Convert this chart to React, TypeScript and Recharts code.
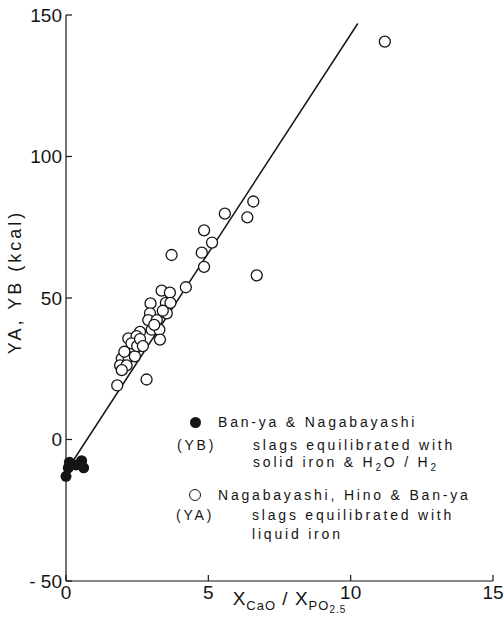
import React from "react";
import { ScatterChart, Scatter, XAxis, YAxis, Label } from "recharts";

// YA: Nagabayashi, Hino & Ban-ya (open circles) [XCaO/XPO2.5, kcal]
const yaPoints: [number, number][] = [
  [11.2, 140.6], [6.58, 84.1], [6.37, 78.5], [6.7, 58], [5.58, 79.8],
  [4.85, 73.9], [5.13, 69.6], [4.77, 66], [4.85, 61], [4.21, 53.8],
  [3.71, 65.2], [3.36, 52.6], [3.65, 51.9], [3.51, 48.3], [3.67, 48.3],
  [2.97, 48.1], [3.54, 44.6], [2.95, 44.6], [2.89, 42.2], [3.19, 42.2],
  [3.01, 38.8], [3.28, 38.8], [3.3, 35.3], [2.6, 38], [2.19, 35.7],
  [2.48, 36.5], [2.42, 32.2], [2.25, 31.6], [1.96, 28.6], [2.19, 29.2],
  [2.42, 29.4], [1.9, 26.2], [2.13, 26.2], [1.96, 24.5], [1.8, 19.1],
  [2.83, 21.2], [2.3, 34], [2.5, 33], [2.05, 31], [2.6, 35.5],
  [3.1, 40.5], [3.4, 45.5], [2.7, 33],
];

// YB: Ban-ya & Nagabayashi (filled circles)
const ybPoints: [number, number][] = [
  [0.0, -13], [0.08, -10], [0.12, -8], [0.35, -9], [0.55, -7.5], [0.62, -10],
];

// regression line end points
const fitLine: [number, number][] = [
  [0.25, -7.5], [10.25, 147],
];

const xTicks = [0, 5, 10, 15];
const yTicks = [-50, 0, 50, 100, 150];

const toXY = (arr: [number, number][]) => arr.map(([x, y]) => ({ x, y }));

const FONT = "'Liberation Sans', Arial, sans-serif";
const INK = "#151515";

const OpenDot = (p: any) => (
  <circle cx={p.cx} cy={p.cy} r={5.5} fill="#fff" stroke={INK} strokeWidth={1.3} />
);
const FilledDot = (p: any) => <circle cx={p.cx} cy={p.cy} r={5.5} fill={INK} />;
const NoDot = () => <g />;

const XTitle = (props: any) => {
  const vb = props.viewBox || { x: 66, width: 427 };
  const cx = vb.x + vb.width / 2 + 10;
  return (
    <text x={cx} y={605} textAnchor="middle" fontFamily={FONT} fontSize={19} fill={INK} letterSpacing={1}>
      X<tspan fontSize={13} dy={5}>CaO</tspan>
      <tspan fontSize={19} dy={-5}> / X</tspan>
      <tspan fontSize={13} dy={5}>PO</tspan>
      <tspan fontSize={10} dy={3}>2.5</tspan>
    </text>
  );
};

const YTitle = () => (
  <text
    x={15}
    y={282}
    transform="rotate(-90, 15, 282)"
    textAnchor="middle"
    dominantBaseline="central"
    fontFamily={FONT}
    fontSize={18}
    letterSpacing={3}
    fill={INK}
  >
    YA, YB (kcal)
  </text>
);

const legendText: React.CSSProperties = {
  position: "absolute",
  fontFamily: FONT,
  fontSize: 14,
  letterSpacing: 2.8,
  color: INK,
  lineHeight: "16px",
  whiteSpace: "nowrap",
  transform: "translateY(-50%)",
};

export default function App() {
  const tickStyle = { fontFamily: FONT, fontSize: 19, fill: INK };
  return (
    <div style={{ position: "absolute", left: 0, top: 0, width: 504, height: 635, background: "#fff" }}>
      <ScatterChart width={504} height={635} margin={{ top: 15, right: 11, left: 0, bottom: 14 }}>
        <XAxis
          type="number"
          dataKey="x"
          domain={[0, 15]}
          ticks={xTicks}
          height={40}
          tickSize={-6}
          tickMargin={11}
          tick={tickStyle}
          stroke={INK}
          axisLine={{ stroke: INK, strokeWidth: 1.2 }}
          tickLine={{ stroke: INK, strokeWidth: 1.2 }}
        >
          <Label content={XTitle} />
        </XAxis>
        <XAxis
          xAxisId="top"
          orientation="top"
          type="number"
          dataKey="x"
          domain={[0, 15]}
          ticks={xTicks}
          height={0}
          tickSize={-6}
          tick={false}
          axisLine={{ stroke: INK, strokeWidth: 1.2 }}
          tickLine={{ stroke: INK, strokeWidth: 1.2 }}
        />
        <YAxis
          type="number"
          dataKey="y"
          domain={[-50, 150]}
          ticks={yTicks}
          width={66}
          tickSize={-6}
          tickMargin={10}
          tick={tickStyle}
          tickFormatter={(v: number) => (v < 0 ? `- ${-v}` : `${v}`)}
          axisLine={{ stroke: INK, strokeWidth: 1.2 }}
          tickLine={{ stroke: INK, strokeWidth: 1.2 }}
        >
          <Label content={YTitle} />
        </YAxis>
        <YAxis
          yAxisId="right"
          orientation="right"
          type="number"
          dataKey="y"
          domain={[-50, 150]}
          ticks={yTicks}
          width={0}
          tickSize={-6}
          tick={false}
          axisLine={{ stroke: INK, strokeWidth: 1.2 }}
          tickLine={{ stroke: INK, strokeWidth: 1.2 }}
        />
        <Scatter
          data={toXY(fitLine)}
          line={{ stroke: INK, strokeWidth: 1.5 }}
          shape={NoDot}
          isAnimationActive={false}
        />
        <Scatter data={toXY(yaPoints)} shape={OpenDot} isAnimationActive={false} />
        <Scatter data={toXY(ybPoints)} shape={FilledDot} isAnimationActive={false} />
      </ScatterChart>

      {/* legend block inside the plot */}
      <div style={{ position: "absolute", left: 0, top: 0, width: 504, height: 635, pointerEvents: "none" }}>
        <div style={{ position: "absolute", left: 189.5, top: 416.5, width: 11, height: 11, borderRadius: "50%", background: INK }} />
        <div style={{ ...legendText, left: 218, top: 422 }}>Ban-ya &amp; Nagabayashi</div>
        <div style={{ ...legendText, left: 177, top: 445 }}>(YB)</div>
        <div style={{ ...legendText, left: 253, top: 445 }}>slags equilibrated with</div>
        <div style={{ ...legendText, left: 253, top: 465 }}>
          solid iron &amp; H<sub style={{ fontSize: 10 }}>2</sub>O / H<sub style={{ fontSize: 10 }}>2</sub>
        </div>
        <div style={{ position: "absolute", left: 189, top: 489, width: 10, height: 10, borderRadius: "50%", border: `1.2px solid ${INK}`, background: "#fff" }} />
        <div style={{ ...legendText, left: 218, top: 495 }}>Nagabayashi, Hino &amp; Ban-ya</div>
        <div style={{ ...legendText, left: 176, top: 515 }}>(YA)</div>
        <div style={{ ...legendText, left: 252, top: 515 }}>slags equilibrated with</div>
        <div style={{ ...legendText, left: 252, top: 534 }}>liquid iron</div>
      </div>
    </div>
  );
}
